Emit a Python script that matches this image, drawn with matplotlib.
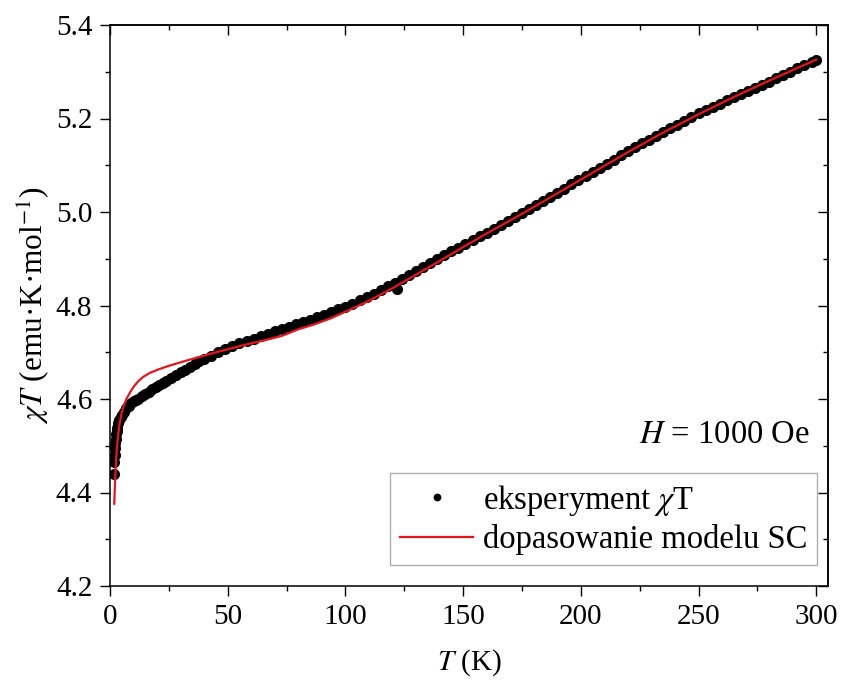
import matplotlib
matplotlib.use("Agg")
import matplotlib.pyplot as plt
from matplotlib.ticker import MultipleLocator, NullFormatter, FormatStrFormatter

# ---- experimental data (chi*T vs T) ----
T_exp = [1.8, 1.9, 2.0, 2.1, 2.2, 2.4, 2.6, 2.8, 3.0, 3.5, 4.0, 4.5, 5.0, 6.0, 7.0, 8.0, 9.0,
         10, 11, 12, 13.5, 15, 16.5, 18, 19.5, 21, 22.5, 24, 26, 28, 30, 32, 34, 36, 38, 40,
         43, 46, 49, 52, 55, 58, 61, 64, 67, 70, 73, 76, 79, 82, 85, 88, 91, 94, 97,
         100, 103, 106, 109, 112, 115, 118, 121, 122, 124, 127, 130, 133, 136, 139, 142, 145, 148,
         151, 154, 157, 160, 163, 166, 169, 172, 175, 178, 181, 184, 187, 190, 193, 196, 199,
         202, 205, 208, 211, 214, 217, 220, 223, 226, 229, 232, 235, 238, 241, 244, 247, 250,
         253, 256, 259, 262, 265, 268, 271, 274, 277, 280, 283, 286, 289, 292, 295, 298, 300]
chiT_exp = [4.440, 4.465, 4.480, 4.495, 4.505, 4.515, 4.525, 4.532, 4.538, 4.548, 4.555, 4.561,
            4.566, 4.573, 4.580, 4.586, 4.591,
            4.595, 4.598, 4.601, 4.606, 4.611, 4.616, 4.621, 4.626, 4.631, 4.635, 4.639, 4.645,
            4.651, 4.657, 4.663, 4.669, 4.675, 4.681, 4.686,
            4.693, 4.700, 4.707, 4.713, 4.719, 4.724, 4.729, 4.735, 4.740, 4.745, 4.750, 4.755,
            4.760, 4.765, 4.770, 4.775, 4.780, 4.786, 4.792,
            4.797, 4.804, 4.811, 4.818, 4.825, 4.833, 4.841, 4.849, 4.836, 4.857, 4.866, 4.874,
            4.882, 4.891, 4.899, 4.907, 4.916, 4.924,
            4.932, 4.940, 4.948, 4.956, 4.964, 4.972, 4.981, 4.990, 4.998, 5.007, 5.015, 5.024,
            5.033, 5.041, 5.050, 5.059, 5.068,
            5.077, 5.085, 5.094, 5.103, 5.112, 5.121, 5.130, 5.139, 5.147, 5.155, 5.163, 5.171,
            5.179, 5.187, 5.195, 5.203, 5.211,
            5.218, 5.225, 5.232, 5.239, 5.245, 5.252, 5.259, 5.265, 5.272, 5.279, 5.286, 5.293,
            5.300, 5.307, 5.314, 5.320, 5.325]

# ---- model fit ----
T_fit = [1.8, 2.2, 2.6, 3.0, 3.5, 4.0, 5.0, 6.0, 7.0, 8.5, 10, 12, 14, 17, 21, 25, 31, 38, 45,
         52, 59, 66, 73, 80, 87, 94, 101, 110, 120, 130, 140, 151, 160, 175, 190, 205, 220,
         235, 250, 265, 280, 300]
chiT_fit = [4.376, 4.430, 4.470, 4.500, 4.525, 4.545, 4.572, 4.588, 4.600, 4.614, 4.626, 4.638,
            4.647, 4.656, 4.664, 4.671, 4.680, 4.690, 4.700,
            4.709, 4.718, 4.726, 4.735, 4.749, 4.760, 4.773, 4.789, 4.810, 4.837, 4.866, 4.895,
            4.928, 4.954, 4.996, 5.040, 5.084, 5.128,
            5.170, 5.209, 5.246, 5.281, 5.326]

label_exp = r'eksperyment $\chi$T'
label_fit = 'dopasowanie modelu SC'
xlabel = r'$T$ (K)'
ylabel = r'$\chi T$ (emu·K·mol$^{-1}$)'
annot = r'$H$ = 1000 Oe'

plt.rcParams['font.family'] = ['Liberation Serif', 'DejaVu Serif']
plt.rcParams['mathtext.fontset'] = 'stix'
FS_TICK = 21
FS_XLAB = 21
FS_YLAB = 22.5
FS_LEG = 23.5

fig = plt.figure(figsize=(8.44, 6.80), dpi=100)
ax = fig.add_axes([110/844, 1-586/680, (828-110)/844, (586-25)/680])

ax.plot(T_exp, chiT_exp, 'o', color='black', markersize=8, markeredgewidth=0,
        label=label_exp, zorder=2)
ax.plot(T_fit, chiT_fit, '-', color='#e8141a', linewidth=1.6, label=label_fit, zorder=3)

ax.set_xlim(0, 305)
ax.set_ylim(4.2, 5.4)
ax.xaxis.set_major_locator(MultipleLocator(50))
ax.xaxis.set_minor_locator(MultipleLocator(25))
ax.yaxis.set_major_locator(MultipleLocator(0.2))
ax.yaxis.set_minor_locator(MultipleLocator(0.1))
ax.yaxis.set_major_formatter(FormatStrFormatter('%.1f'))
ax.tick_params(which='major', direction='out', length=7.2, width=1.0, labelsize=FS_TICK)
ax.tick_params(axis='x', which='major', pad=6)
ax.tick_params(axis='y', which='major', pad=5.5)
ax.tick_params(which='minor', direction='out', length=3.6, width=1.0)
ax.tick_params(top=False, right=False)
for s in ax.spines.values():
    s.set_linewidth(1.1)

secx = ax.secondary_xaxis('top')
secx.xaxis.set_major_locator(MultipleLocator(50))
secx.xaxis.set_minor_locator(MultipleLocator(25))
secx.xaxis.set_major_formatter(NullFormatter())
secx.tick_params(which='major', direction='in', length=7.2, width=1.0)
secx.tick_params(which='minor', direction='in', length=3.6, width=1.0)
secx.spines['top'].set_linewidth(1.1)

secy = ax.secondary_yaxis('right')
secy.yaxis.set_major_locator(MultipleLocator(0.2))
secy.yaxis.set_minor_locator(MultipleLocator(0.1))
secy.yaxis.set_major_formatter(NullFormatter())
secy.tick_params(which='major', direction='in', length=7.2, width=1.0)
secy.tick_params(which='minor', direction='in', length=3.6, width=1.0)
secy.spines['right'].set_linewidth(1.1)

ax.set_xlabel(xlabel, fontsize=FS_XLAB, labelpad=12)
ax.set_ylabel(ylabel, fontsize=FS_YLAB, labelpad=3)

ax.text(0.975, 0.255, annot, transform=ax.transAxes, ha='right', va='baseline',
        fontsize=FS_LEG)

leg = ax.legend(loc='lower right', bbox_to_anchor=(0.985, 0.037), borderaxespad=0,
                fontsize=FS_LEG, frameon=True, fancybox=False, edgecolor='#999999',
                handlelength=2.25, handletextpad=0.3, borderpad=0.3, labelspacing=0.2,
                markerscale=0.7)
leg.get_frame().set_linewidth(1.0)

fig.savefig('out.png', dpi=100)
